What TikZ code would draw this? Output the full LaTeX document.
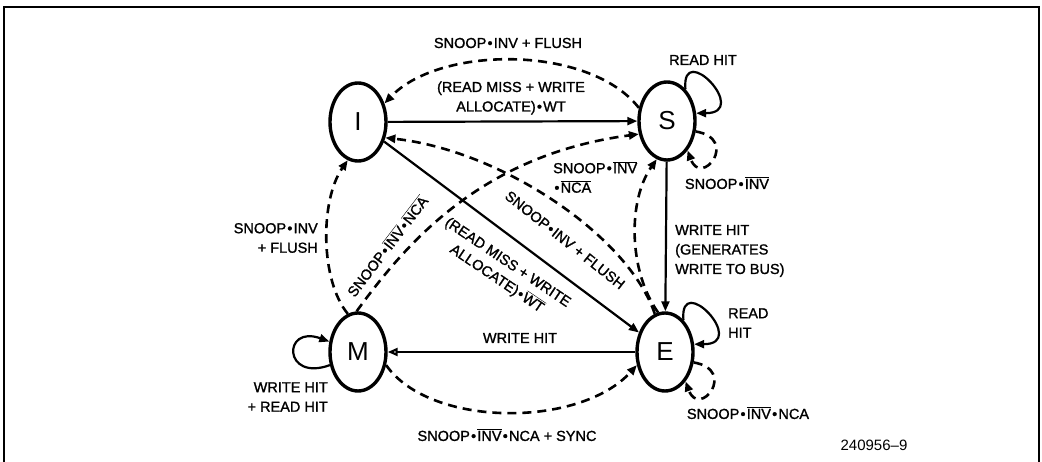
\documentclass[tikz,border=0pt]{standalone}
\usepackage{fontspec}
\setmainfont{Liberation Sans}[FakeBold=1.3]
\newfontfamily\statefont{Liberation Sans}
\usetikzlibrary{arrows.meta,shapes.geometric}
\newcommand\ovl[1]{$\overline{\hbox{#1}}$}
\newcommand\bul{\hspace{1.2pt}•\hspace{1.2pt}}
\begin{document}
\begin{tikzpicture}[x=1pt,y=-1pt,
  state/.style={draw,ellipse,line width=3.4pt,minimum width=56pt,minimum height=78pt,inner sep=0pt,font=\statefont\fontsize{26}{26}\selectfont},
  sol/.style={line width=2.2pt,-{Triangle[length=10pt,width=8pt]}},
  solopen/.style={line width=2.2pt,-{Triangle[open,length=10pt,width=8pt]}},
  dsh/.style={line width=2.6pt,dash pattern=on 9pt off 6pt,-{Triangle[length=10pt,width=8pt]}},
  lbl/.style={font=\fontsize{14.5}{19.5}\selectfont,inner sep=0pt},
  frame/.style={line width=1.8pt}]
\useasboundingbox (0,0) rectangle (1042,462);
\draw[frame] (4,462) -- (4,7) -- (1039,7) -- (1039,462);

\node[state] (I) at (358,122) {I};
\node[state] (S) at (667,121) {S};
\node[state] (M) at (358,352) {M};
\node[state] (E) at (665,352) {E};

% solid transitions
\draw[sol] (I) -- (S);
\draw[sol] (I) -- (E);
\draw[sol] (S) -- (E);
\draw[solopen] (E) -- (M);

% dashed transitions
\draw[dsh] (S.155) .. controls (590,45) and (440,45) .. (I.35);
\draw[dsh] (E.105) .. controls (628,235) and (500,150) .. (I.-30);
\draw[dsh] (E.100) .. controls (628,270) and (628,200) .. (S.-105);
\draw[dsh] (M.92) .. controls (405,245) and (480,155) .. (S.-155);
\draw[dsh] (M.105) .. controls (320,280) and (320,200) .. (I.-105);
\draw[dsh] (M.-25) .. controls (430,428) and (580,428) .. (E.-155);

% self loops
\draw[sol] (S.60) .. controls +(95:50pt) and +(0:55pt) .. (S.15);
\draw[dsh] (S.-20) .. controls +(-10:45pt) and +(-70:40pt) .. (S.-55);
\draw[sol] (E.60) .. controls +(95:50pt) and +(0:55pt) .. (E.15);
\draw[dsh] (E.-20) .. controls +(-10:45pt) and +(-70:40pt) .. (E.-55);
\draw[sol] (M.205) .. controls +(200:50pt) and +(160:50pt) .. (M.160);

% labels
\node[lbl] (l1) at (508,43) {SNOOP\bul INV + FLUSH};
\node[lbl,align=center] (l2) at (511,98) {(READ MISS + WRITE\\ALLOCATE)\bul WT};
\node[lbl] (l3) at (703,60) {READ HIT};
\node[lbl] (l4) at (727,183) {SNOOP\bul\ovl{INV}};
\node[lbl,align=left,anchor=west] (l5) at (553,177) {SNOOP\bul\ovl{INV}\\\bul\ovl{NCA}};
\node[lbl,rotate=-38.5] (l6) at (565,240) {SNOOP\bul INV + FLUSH};
\node[lbl,align=center,rotate=-34] (l7) at (502,271) {(READ MISS + WRITE\\ALLOCATE)\bul\ovl{WT}};
\node[lbl,rotate=52.5] (l8) at (387,246) {SNOOP\bul\ovl{INV}\bul\ovl{NCA}};
\node[lbl,align=right,anchor=east] (l9) at (318,238) {SNOOP\bul INV\\+ FLUSH};
\node[lbl,align=right,anchor=east] (l10) at (328,397) {WRITE HIT\\+ READ HIT};
\node[lbl] (l11) at (520,338) {WRITE HIT};
\node[lbl] (l12) at (507,435) {SNOOP\bul\ovl{INV}\bul NCA + SYNC};
\node[lbl,align=left,anchor=west] (l13) at (675,251) {WRITE HIT\\(GENERATES\\WRITE TO BUS)};
\node[lbl,align=left,anchor=west] (l14) at (728,323) {READ\\HIT};
\node[lbl] (l15) at (748,413) {SNOOP\bul\ovl{INV}\bul NCA};
\node[font=\statefont\fontsize{15}{15}\selectfont,inner sep=0pt] (fig) at (874,445) {240956–9};
\end{tikzpicture}
\end{document}
